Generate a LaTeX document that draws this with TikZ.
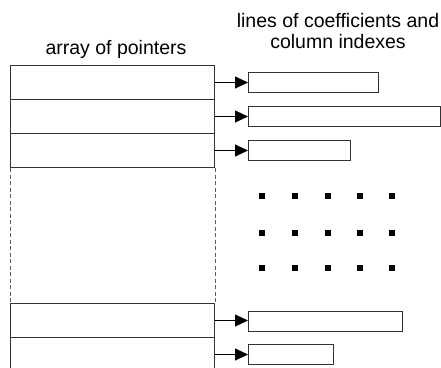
\documentclass[tikz,border=0pt]{standalone}
\usepackage{fontspec}
\setmainfont{Liberation Sans}
\usetikzlibrary{arrows.meta}
\definecolor{ln}{HTML}{333333}
\begin{document}
\begin{tikzpicture}[x=1pt,y=-1pt,
  row/.style={draw=ln,line width=1pt,minimum width=204pt,minimum height=34pt,inner sep=0pt,anchor=north west},
  line/.style={draw=ln,line width=1pt,minimum height=20pt,inner sep=0pt,anchor=north west},
  ptr/.style={draw=black,line width=0.9pt,-{Triangle[length=13pt,width=12pt]}},
  lbl/.style={font=\fontsize{19.5}{20.5}\selectfont,text=black,align=center,inner sep=0pt},
  dot/.style={fill=black}]
\useasboundingbox (0,0) rectangle (441,367);
\fill[white] (0,0) rectangle (441,367);
% labels
\node[lbl] (t1) at (116,49) {array of pointers};
\node[lbl] (t2) at (338,31) {lines of coefficients and\\column indexes};
% array rows
\node[row] (r1) at (10,65) {};
\node[row] (r2) at (10,99) {};
\node[row] (r3) at (10,133) {};
\node[row] (r4) at (10,303) {};
\node[row] (r5) at (10,337) {};
\draw[ln!80,line width=1pt,dash pattern=on 4pt off 2.5pt] (r3.south west) -- (r4.north west);
\draw[ln!80,line width=1pt,dash pattern=on 4pt off 2.5pt] (r3.south east) -- (r4.north east);
% lines
\node[line,minimum width=130pt] (b1) at (248,72) {};
\node[line,minimum width=192pt] (b2) at (248,106) {};
\node[line,minimum width=102pt] (b3) at (248,140) {};
\node[line,minimum width=154pt] (b4) at (248,311) {};
\node[line,minimum width=85pt] (b5) at (248,344) {};
% pointers
\foreach \i in {1,...,5}{
  \draw[ptr] (r\i.east) -- (r\i.east -| b\i.west);
}
% dots
\foreach \y in {196,233,268}{
  \foreach \x in {262,295,328,360,392}{
    \fill[dot] (\x-3,\y-3) rectangle (\x+3,\y+3);
  }
}
\end{tikzpicture}
\end{document}
